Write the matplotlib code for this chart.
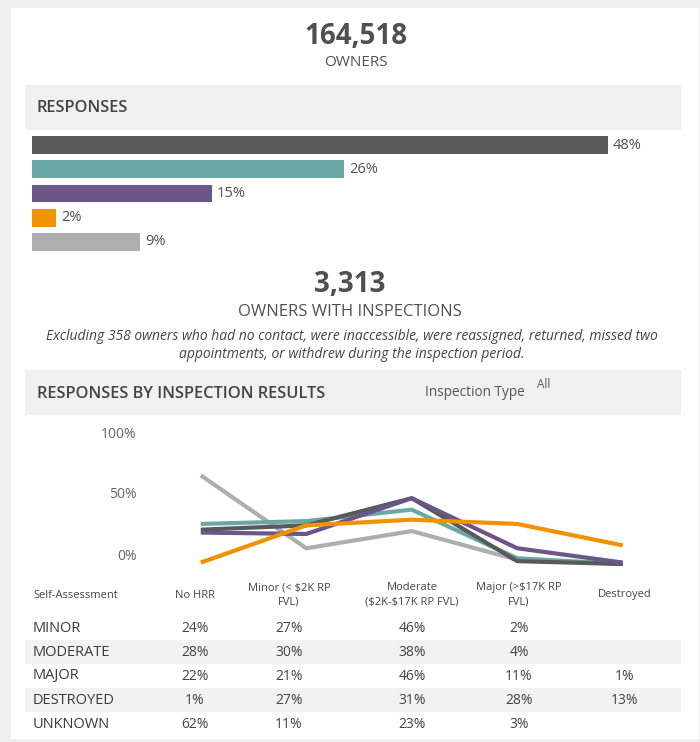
import matplotlib
matplotlib.use("Agg")
import matplotlib.pyplot as plt
from matplotlib.patches import Rectangle
from matplotlib.transforms import ScaledTranslation

plt.rcParams["font.family"] = ["Open Sans", "DejaVu Sans"]

# data
totalOwners = "164,518"
inspectedOwners = "3,313"
responseShares = [48, 26, 15, 2, 9]
responseColors = ["#58595b", "#6ba8a5", "#6a5687", "#f39200", "#adaeb0"]

inspectionCols = ["No HRR", "Minor (< \\$2K RP\nFVL)", "Moderate\n(\\$2K-\\$17K RP FVL)",
                  "Major (>\\$17K RP\nFVL)", "Destroyed"]
selfAssessment = ["MINOR", "MODERATE", "MAJOR", "DESTROYED", "UNKNOWN"]
minorRow = [24, 27, 46, 2, None]
moderateRow = [28, 30, 38, 4, None]
majorRow = [22, 21, 46, 11, 1]
destroyedRow = [1, 27, 31, 28, 13]
unknownRow = [62, 11, 23, 3, None]
tableRows = [minorRow, moderateRow, majorRow, destroyedRow, unknownRow]
lineColors = ["#58595b", "#6ba8a5", "#6a5687", "#f39200", "#adaeb0"]
lineOrder = [4, 1, 0, 2, 3]

W, H = 700, 742
textGray = "#505050"

fig = plt.figure(figsize=(W / 100, H / 100), dpi=100)
fig.patch.set_facecolor("#eef0f0")

bg = fig.add_axes([0, 0, 1, 1])
bg.set_xlim(0, W)
bg.set_ylim(H, 0)
bg.axis("off")
bg.add_patch(Rectangle((11, 8), 688, 731, facecolor="white", edgecolor="none"))
bg.add_patch(Rectangle((25, 85), 656, 45, facecolor="#eff0f0", edgecolor="none"))
bg.add_patch(Rectangle((25, 370), 656, 45, facecolor="#eff0f0", edgecolor="none"))

bg.text(356, 36, totalOwners, ha="center", va="center", fontsize=20, fontweight="bold", color=textGray)
bg.text(356, 63, "OWNERS", ha="center", va="center", fontsize=11, color=textGray)
bg.text(37, 108, "RESPONSES", ha="left", va="center", fontsize=11.8, fontweight="semibold", color="#444444")

bg.text(350, 284, inspectedOwners, ha="center", va="center", fontsize=20, fontweight="bold", color=textGray)
bg.text(350, 312, "OWNERS WITH INSPECTIONS", ha="center", va="center", fontsize=12, color=textGray)
bg.text(352, 336, "Excluding 358 owners who had no contact, were inaccessible, were reassigned, returned, missed two",
        ha="center", va="center", fontsize=10, style="italic", color="#444444")
bg.text(352, 355, "appointments, or withdrew during the inspection period.",
        ha="center", va="center", fontsize=10, style="italic", color="#444444")
bg.text(37, 394, "RESPONSES BY INSPECTION RESULTS", ha="left", va="center", fontsize=11.8,
        fontweight="semibold", color="#444444")
bg.text(425, 393, "Inspection Type", ha="left", va="center", fontsize=9.8, color="#555555")
bg.text(537, 385, "All", ha="left", va="center", fontsize=8.5, color="#555555")

# response bars
def px_axes(left, top, width, height):
    return fig.add_axes([left / W, 1 - (top + height) / H, width / W, height / H])

barAx = px_axes(32, 133, 600, 121)
barAx.barh(range(len(responseShares)), responseShares, height=0.74, color=responseColors)
barAx.set_xlim(0, 50)
barAx.set_ylim(len(responseShares) - 0.5, -0.5)
barAx.axis("off")
for i, v in enumerate(responseShares):
    barAx.text(v + 0.4, i, f"{v}%", ha="left", va="center", fontsize=10.5, color=textGray)

# line chart
lineAx = px_axes(148, 421, 527.5, 143)
xs = range(len(inspectionCols))
for r in lineOrder:
    ys = [v if v is not None else 0 for v in tableRows[r]]
    lineAx.plot(xs, ys, color=lineColors[r], linewidth=3, clip_on=False, solid_capstyle="butt")
lineAx.set_xlim(-0.5, 4.5)
lineAx.set_ylim(0, 100)
lineAx.set_yticks([0, 50, 100])
lineAx.set_yticklabels(["0%", "50%", "100%"])
lineAx.tick_params(axis="y", length=0, pad=8, labelsize=10, labelcolor="#666666")
lineAx.set_xticks([])
for s in lineAx.spines.values():
    s.set_visible(False)
lineAx.patch.set_alpha(0)
# the dashboard draws its axis labels slightly inside the plotted range
for lab, dy in zip(lineAx.get_yticklabels(), [9, 0, -11]):
    lab.set_transform(lab.get_transform() + ScaledTranslation(0, dy / 100, fig.dpi_scale_trans))

# table
colCenters = [195, 289, 412, 519, 625]
rowYs = [628, 652, 676, 700, 725]
bg.text(33, 595, "Self-Assessment", ha="left", va="center", fontsize=8, color="#444444")
for c, name in zip(colCenters, inspectionCols):
    bg.text(c, 595, name, ha="center", va="center", fontsize=8, color="#444444", linespacing=1.5)
for i, (label, row) in enumerate(zip(selfAssessment, tableRows)):
    if i % 2 == 1:
        bg.add_patch(Rectangle((25, rowYs[i] - 12), 656, 24, facecolor="#f2f2f2", edgecolor="none"))
    bg.text(33, rowYs[i], label, ha="left", va="center", fontsize=10.5, color="#3a3a3a")
    for c, v in zip(colCenters, row):
        if v is not None:
            bg.text(c, rowYs[i], f"{v}%", ha="center", va="center", fontsize=10, color="#444444")

fig.savefig("out.png", dpi=100, facecolor=fig.get_facecolor())
